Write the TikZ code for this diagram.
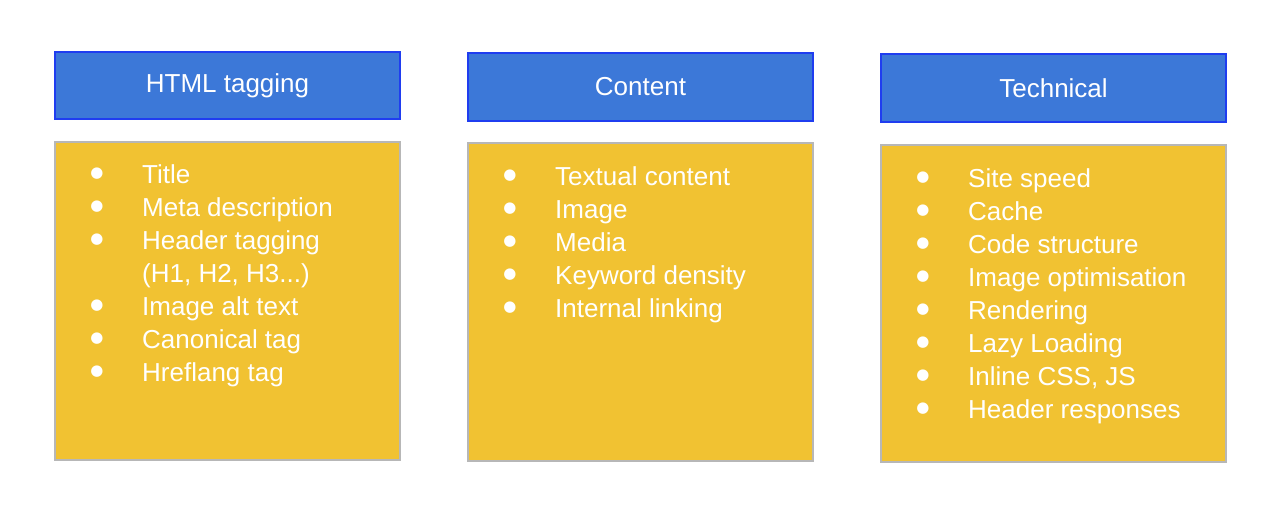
\documentclass[tikz,border=0pt]{standalone}
\usepackage{fontspec}
\setmainfont{Liberation Sans}
\newfontfamily\dejavu{DejaVu Sans}
\definecolor{hdrblue}{HTML}{3C78D8}
\definecolor{hdredge}{HTML}{1F3DF0}
\definecolor{bodyyel}{HTML}{F1C232}
\definecolor{bodyedge}{HTML}{B7B7B7}
\newcommand\myhtags{(H1, H2, H3...)}
\newcommand\mycssjs{Inline CSS, JS}
\begin{document}
\begin{tikzpicture}[x=1pt,y=-1pt,
  hdr/.style={fill=hdrblue,draw=hdredge,line width=1.2pt},
  bodybox/.style={fill=bodyyel,draw=bodyedge,line width=1.2pt},
  txt/.style={text=white,font=\fontsize{26}{30}\selectfont,inner sep=0pt,anchor=base west},
  bul/.style={text=white,font=\dejavu\fontsize{15}{18}\selectfont,inner sep=0pt,anchor=center}]
\useasboundingbox (0,0) rectangle (1286,515);
% column 1
\draw[hdr] (55,52) rectangle (400,119);
\node[txt,anchor=center] (h1) at (227.5,86) {HTML tagging};
\draw[bodybox] (55,142) rectangle (400,460);
% column 2
\draw[hdr] (468,53) rectangle (813,121);
\node[txt,anchor=center] (h2) at (640.5,87) {Content};
\draw[bodybox] (468,143) rectangle (813,461);
% column 3
\draw[hdr] (881,54) rectangle (1226,122);
\node[txt,anchor=center] (h3) at (1053.5,88) {Technical};
\draw[bodybox] (881,145) rectangle (1226,462);
% items
\foreach \t [count=\i] in {Title,Meta description,Header tagging,\myhtags,Image alt text,Canonical tag,Hreflang tag}{
  \node[txt] (a\i) at (142,{183+33*(\i-1)}) {\t};
}
\foreach \i in {1,2,3,5,6,7}{\node[bul] (ab\i) at (97,{174+33*(\i-1)}) {●};}
\foreach \t [count=\i] in {Textual content,Image,Media,Keyword density,Internal linking}{
  \node[txt] (b\i) at (555,{185+33*(\i-1)}) {\t};
  \node[bul] (bb\i) at (510,{176+33*(\i-1)}) {●};
}
\foreach \t [count=\i] in {Site speed,Cache,Code structure,Image optimisation,Rendering,Lazy Loading,\mycssjs,Header responses}{
  \node[txt] (c\i) at (968,{187+33*(\i-1)}) {\t};
  \node[bul] (cb\i) at (923,{178+33*(\i-1)}) {●};
}
\end{tikzpicture}
\end{document}
